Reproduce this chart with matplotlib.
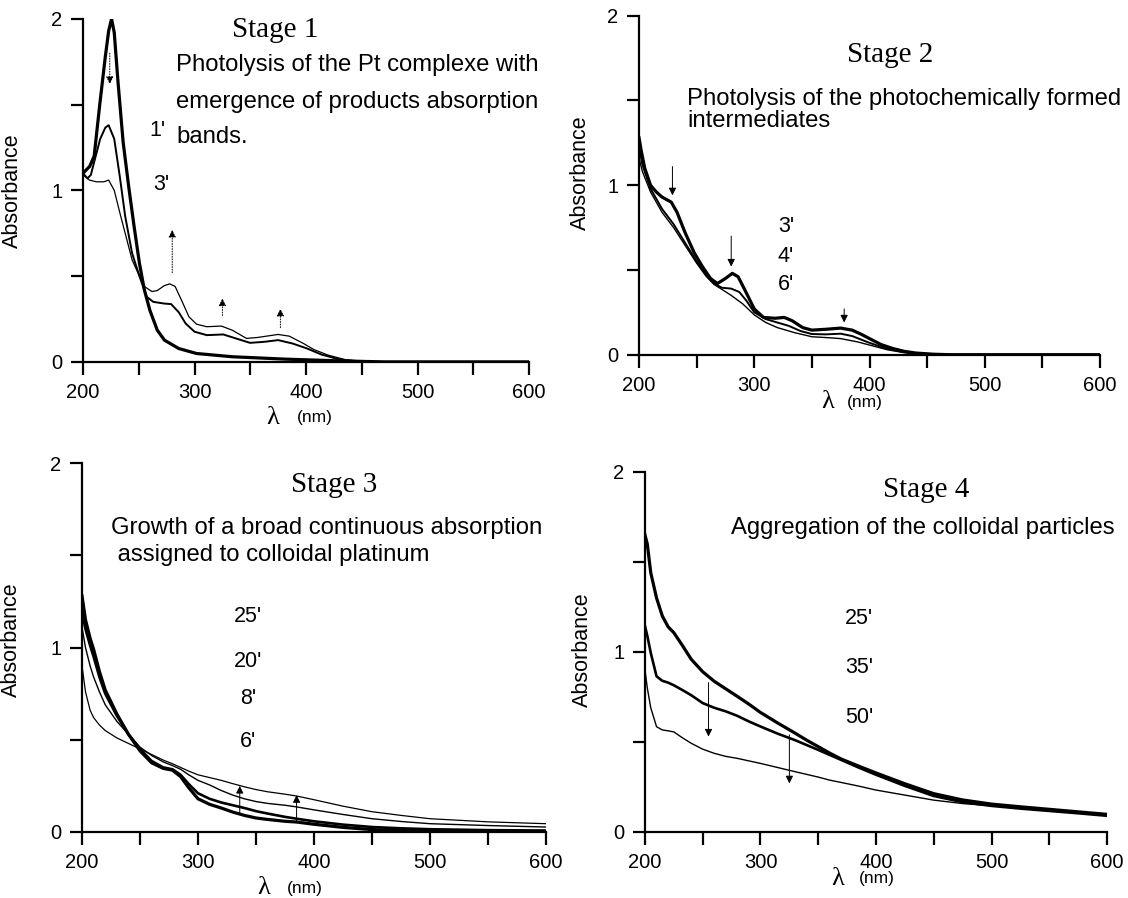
import matplotlib
matplotlib.use("Agg")
import matplotlib.pyplot as plt
from matplotlib.ticker import MultipleLocator

SANS = "Liberation Sans"
SERIF = "Liberation Serif"

# ---------------- Stage 1 ----------------
s1_t0_wl = [200, 203, 206, 210, 215, 220, 223, 225.6, 228, 231.4, 236, 241, 245.8, 250.6, 255,
            260, 266.6, 273, 285.8, 301.8, 333.8, 381.8, 430, 470, 600]
s1_t0_abs = [1.10, 1.12, 1.14, 1.20, 1.50, 1.78, 1.93, 2.00, 1.92, 1.63, 1.28, 1.02, 0.79, 0.575, 0.42,
             0.30, 0.185, 0.127, 0.078, 0.049, 0.030, 0.016, 0.006, 0.0, 0.0]
s1_t1_wl = [200, 204, 207, 209, 215.4, 220, 223, 228, 233, 237.8, 244, 250.6, 257, 263, 273, 279,
            285.8, 292, 300, 311, 325.8, 337, 349.8, 362.6, 375, 388, 401, 413.8, 430, 446, 460, 600]
s1_t1_abs = [1.10, 1.07, 1.09, 1.14, 1.30, 1.366, 1.38, 1.30, 1.08, 0.85, 0.634, 0.50, 0.38, 0.35,
             0.34, 0.337, 0.29, 0.224, 0.176, 0.156, 0.16, 0.137, 0.111, 0.117, 0.127, 0.107, 0.078,
             0.043, 0.014, 0.003, 0.0, 0.0]
s1_t3_wl = [200, 205.8, 212, 218.6, 223, 228, 233, 237.8, 244, 250.6, 255, 261.8, 266.6, 273, 277.8,
            282.6, 289, 295, 301.8, 311, 324, 333.8, 346.6, 356, 375, 385, 397.8, 407, 420, 436, 460, 600]
s1_t3_abs = [1.09, 1.06, 1.05, 1.05, 1.06, 1.00, 0.87, 0.75, 0.595, 0.50, 0.44, 0.41, 0.416, 0.445,
             0.455, 0.44, 0.35, 0.263, 0.22, 0.205, 0.209, 0.185, 0.137, 0.142, 0.16, 0.15, 0.107,
             0.072, 0.039, 0.012, 0.0, 0.0]
s1_arrow_x = [224, 280, 325, 377]
s1_arrow_from = [1.80, 0.52, 0.27, 0.20]
s1_arrow_to = [1.62, 0.77, 0.37, 0.31]

# ---------------- Stage 2 ----------------
s2_t3_wl = [200, 202, 205, 210, 215, 220, 228, 233, 240, 248, 255, 262, 268, 275, 281, 286, 292, 300,
            308, 318, 326, 333, 342, 350, 362, 375, 385, 393, 400, 410, 420, 430, 440, 455, 470, 600]
s2_t3_abs = [1.28, 1.20, 1.10, 1.00, 0.96, 0.93, 0.90, 0.84, 0.72, 0.60, 0.52, 0.45, 0.42, 0.45, 0.48,
             0.46, 0.38, 0.27, 0.22, 0.215, 0.22, 0.20, 0.16, 0.145, 0.15, 0.157, 0.145, 0.12, 0.095,
             0.06, 0.037, 0.02, 0.01, 0.003, 0.0, 0.0]
s2_t4_wl = [200, 203, 210, 220, 230, 240, 250, 258, 265, 272, 280, 287, 293, 300, 310, 320, 330, 340,
            350, 362, 375, 385, 400, 415, 430, 445, 460, 600]
s2_t4_abs = [1.22, 1.12, 0.98, 0.86, 0.77, 0.66, 0.55, 0.47, 0.42, 0.395, 0.39, 0.37, 0.32, 0.25, 0.21,
             0.19, 0.17, 0.14, 0.122, 0.12, 0.124, 0.11, 0.07, 0.035, 0.015, 0.005, 0.0, 0.0]
s2_t6_wl = [200, 203, 210, 220, 230, 240, 250, 258, 265, 272, 280, 290, 300, 310, 320, 335, 350, 365,
            375, 390, 400, 415, 430, 445, 460, 600]
s2_t6_abs = [1.16, 1.08, 0.96, 0.84, 0.75, 0.645, 0.54, 0.465, 0.415, 0.385, 0.35, 0.30, 0.235, 0.19,
             0.16, 0.13, 0.106, 0.10, 0.095, 0.075, 0.057, 0.03, 0.012, 0.004, 0.0, 0.0]
s2_arrow_x = [229, 280, 378]
s2_arrow_from = [1.11, 0.70, 0.27]
s2_arrow_to = [0.94, 0.52, 0.19]

# ---------------- Stage 3 ----------------
s3_wl = [200, 203, 207, 210, 215, 220, 230, 240, 250, 260, 270, 278, 285, 292, 300, 310, 320, 330,
         340, 350, 360, 375, 385, 400, 425, 450, 475, 500, 550, 600]
s3_t6 = [1.28, 1.15, 1.05, 0.99, 0.87, 0.77, 0.64, 0.53, 0.44, 0.375, 0.345, 0.335, 0.30, 0.24, 0.18,
         0.15, 0.13, 0.108, 0.09, 0.076, 0.068, 0.058, 0.054, 0.042, 0.025, 0.013, 0.008, 0.005, 0.003,
         0.002]
s3_t8 = [1.19, 1.10, 1.01, 0.95, 0.84, 0.75, 0.63, 0.53, 0.45, 0.385, 0.35, 0.34, 0.31, 0.26, 0.21,
         0.18, 0.16, 0.145, 0.13, 0.113, 0.10, 0.082, 0.072, 0.058, 0.04, 0.027, 0.02, 0.015, 0.01,
         0.008]
s3_t20 = [1.11, 1.00, 0.90, 0.84, 0.76, 0.69, 0.60, 0.53, 0.46, 0.415, 0.38, 0.36, 0.34, 0.31, 0.28,
          0.255, 0.225, 0.20, 0.18, 0.165, 0.155, 0.145, 0.136, 0.12, 0.095, 0.072, 0.057, 0.045, 0.035,
          0.027]
s3_t25 = [0.90, 0.76, 0.66, 0.62, 0.58, 0.55, 0.51, 0.48, 0.45, 0.42, 0.39, 0.37, 0.35, 0.33, 0.31,
          0.295, 0.28, 0.262, 0.245, 0.23, 0.218, 0.205, 0.195, 0.175, 0.14, 0.11, 0.09, 0.072, 0.055,
          0.045]
s3_arrow_x = [336, 385]
s3_arrow_from = [0.10, 0.06]
s3_arrow_to = [0.25, 0.20]

# ---------------- Stage 4 ----------------
s4_wl = [200, 202, 205, 210, 215, 220, 225, 232, 240, 250, 260, 270, 280, 290, 300, 315, 330, 340,
         350, 360, 370, 385, 400, 425, 450, 475, 500, 525, 550, 575, 600]
s4_t25 = [1.65, 1.60, 1.44, 1.30, 1.20, 1.14, 1.107, 1.04, 0.96, 0.89, 0.837, 0.795, 0.753, 0.71,
          0.664, 0.605, 0.549, 0.51, 0.474, 0.438, 0.405, 0.366, 0.328, 0.268, 0.213, 0.178, 0.155,
          0.14, 0.126, 0.112, 0.098]
s4_t35 = [1.144, 1.09, 0.995, 0.865, 0.84, 0.83, 0.815, 0.79, 0.76, 0.716, 0.69, 0.67, 0.645, 0.614,
          0.586, 0.546, 0.51, 0.483, 0.456, 0.428, 0.4, 0.358, 0.318, 0.256, 0.2, 0.166, 0.145, 0.13,
          0.117, 0.104, 0.09]
s4_t50 = [0.90, 0.80, 0.69, 0.585, 0.567, 0.562, 0.556, 0.525, 0.493, 0.46, 0.437, 0.42, 0.409, 0.395,
          0.381, 0.358, 0.335, 0.32, 0.305, 0.288, 0.275, 0.255, 0.233, 0.205, 0.177, 0.158, 0.146,
          0.133, 0.12, 0.106, 0.093]
s4_arrow_x = [255, 325]
s4_arrow_from = [0.83, 0.54]
s4_arrow_to = [0.53, 0.27]

BODY = 17.2
STAGE = 21


def style_axes(ax):
    ax.set_xlim(200, 600)
    ax.set_ylim(0, 2)
    for side in ("top", "right"):
        ax.spines[side].set_visible(False)
    for side in ("left", "bottom"):
        ax.spines[side].set_linewidth(1.6)
    ax.set_xticks([200, 300, 400, 500, 600])
    ax.set_yticks([0, 1, 2])
    ax.xaxis.set_minor_locator(MultipleLocator(50))
    ax.yaxis.set_minor_locator(MultipleLocator(0.5))
    ax.tick_params(which="both", direction="out", length=9, width=1.6)
    ax.tick_params(axis="x", which="major", pad=6)
    ax.tick_params(axis="y", which="major", pad=6)
    for lab in ax.get_xticklabels() + ax.get_yticklabels():
        lab.set_fontfamily(SANS)
        lab.set_fontsize(14.5)


def axis_labels(ax, ylab_xy, lam_x, nm_x, lab_y):
    ax.set_ylabel("Absorbance", fontfamily=SANS, fontsize=15.5)
    ax.yaxis.set_label_coords(*ylab_xy)
    ax.text(lam_x, lab_y, "λ", transform=ax.transAxes, fontfamily=SERIF, fontsize=19,
            ha="center", va="center")
    ax.text(nm_x, lab_y, "(nm)", transform=ax.transAxes, fontfamily=SANS, fontsize=12.5,
            ha="center", va="center")


def arrows(ax, xs, y0s, y1s, dotted=False):
    for x, y0, y1 in zip(xs, y0s, y1s):
        ax.annotate("", xy=(x, y1), xytext=(x, y0),
                    arrowprops=dict(arrowstyle="-|>", lw=0.7, color="black", mutation_scale=11,
                                    linestyle=":" if dotted else "-", shrinkA=0, shrinkB=0))


fig = plt.figure(figsize=(11.28, 8.98), dpi=100)
ax1 = fig.add_axes([0.0736, 0.597, 0.3954, 0.382])
ax2 = fig.add_axes([0.5665, 0.605, 0.4087, 0.3775])
ax3 = fig.add_axes([0.0727, 0.0735, 0.4113, 0.4109])
ax4 = fig.add_axes([0.5718, 0.0735, 0.4096, 0.4009])

# Stage 1
ax1.plot(s1_t0_wl, s1_t0_abs, color="black", lw=2.3)
ax1.plot(s1_t1_wl, s1_t1_abs, color="black", lw=1.4)
ax1.plot(s1_t3_wl, s1_t3_abs, color="black", lw=0.9)
arrows(ax1, s1_arrow_x, s1_arrow_from, s1_arrow_to, dotted=True)
style_axes(ax1)
axis_labels(ax1, (-0.135, 0.5), 0.426, 0.52, -0.163)
ax1.text(0.43, 0.968, "Stage 1", transform=ax1.transAxes, fontfamily=SERIF, fontsize=STAGE,
         ha="center", va="center")
for txt, yy in zip(["Photolysis of the Pt complexe with", "emergence of products absorption", "bands."],
                   [0.866, 0.758, 0.656]):
    ax1.text(0.209, yy, txt, transform=ax1.transAxes, fontfamily=SANS, fontsize=BODY, va="center")
ax1.text(0.148, 0.676, "1'", transform=ax1.transAxes, fontfamily=SANS, fontsize=15.5, va="center")
ax1.text(0.157, 0.516, "3'", transform=ax1.transAxes, fontfamily=SANS, fontsize=15.5, va="center")

# Stage 2
ax2.plot(s2_t3_wl, s2_t3_abs, color="black", lw=2.3)
ax2.plot(s2_t4_wl, s2_t4_abs, color="black", lw=1.4)
ax2.plot(s2_t6_wl, s2_t6_abs, color="black", lw=1.0)
arrows(ax2, s2_arrow_x, s2_arrow_from, s2_arrow_to)
style_axes(ax2)
axis_labels(ax2, (-0.104, 0.537), 0.41, 0.49, -0.14)
ax2.text(0.544, 0.885, "Stage 2", transform=ax2.transAxes, fontfamily=SERIF, fontsize=STAGE,
         ha="center", va="center")
ax2.text(0.104, 0.755, "Photolysis of the photochemically formed", transform=ax2.transAxes,
         fontfamily=SANS, fontsize=BODY, va="center")
ax2.text(0.104, 0.69, "intermediates", transform=ax2.transAxes, fontfamily=SANS, fontsize=BODY,
         va="center")
for txt, yy in zip(["3'", "4'", "6'"], [0.378, 0.289, 0.206]):
    ax2.text(0.319, yy, txt, transform=ax2.transAxes, fontfamily=SANS, fontsize=15.5, ha="center",
             va="center")

# Stage 3
ax3.plot(s3_wl, s3_t6, color="black", lw=2.3)
ax3.plot(s3_wl, s3_t8, color="black", lw=1.9)
ax3.plot(s3_wl, s3_t20, color="black", lw=1.0)
ax3.plot(s3_wl, s3_t25, color="black", lw=0.9)
arrows(ax3, s3_arrow_x, s3_arrow_from, s3_arrow_to)
style_axes(ax3)
axis_labels(ax3, (-0.129, 0.52), 0.392, 0.48, -0.152)
ax3.text(0.543, 0.94, "Stage 3", transform=ax3.transAxes, fontfamily=SERIF, fontsize=STAGE,
         ha="center", va="center")
ax3.text(0.0625, 0.824, "Growth of a broad continuous absorption", transform=ax3.transAxes,
         fontfamily=SANS, fontsize=BODY, va="center")
ax3.text(0.0625, 0.751, " assigned to colloidal platinum", transform=ax3.transAxes,
         fontfamily=SANS, fontsize=BODY, va="center")
for txt, yy in zip(["25'", "20'", "8'", "6'"], [0.583, 0.461, 0.363, 0.244]):
    ax3.text(0.358, yy, txt, transform=ax3.transAxes, fontfamily=SANS, fontsize=15.5, ha="center",
             va="center")

# Stage 4
ax4.plot(s4_wl, s4_t25, color="black", lw=2.3)
ax4.plot(s4_wl, s4_t35, color="black", lw=1.9)
ax4.plot(s4_wl, s4_t50, color="black", lw=1.0)
arrows(ax4, s4_arrow_x, s4_arrow_from, s4_arrow_to)
style_axes(ax4)
axis_labels(ax4, (-0.113, 0.506), 0.416, 0.502, -0.13)
ax4.text(0.608, 0.95, "Stage 4", transform=ax4.transAxes, fontfamily=SERIF, fontsize=STAGE,
         ha="center", va="center")
ax4.text(0.186, 0.844, "Aggregation of the colloidal particles", transform=ax4.transAxes,
         fontfamily=SANS, fontsize=BODY, va="center")
for txt, yy in zip(["25'", "35'", "50'"], [0.594, 0.458, 0.319]):
    ax4.text(0.463, yy, txt, transform=ax4.transAxes, fontfamily=SANS, fontsize=15.5, ha="center",
             va="center")

fig.savefig("out.png", dpi=100)
